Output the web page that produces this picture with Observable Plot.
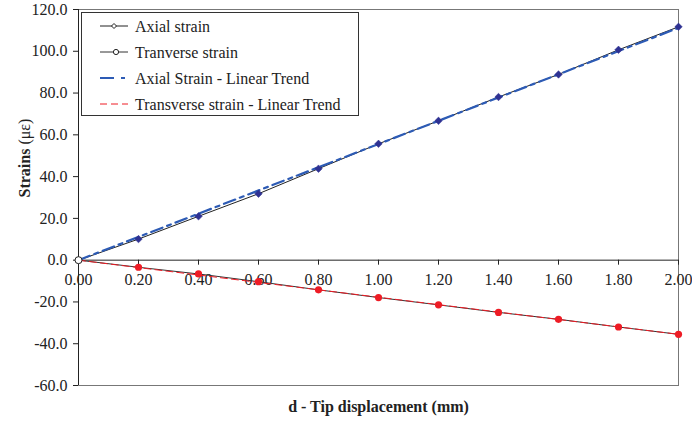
<!DOCTYPE html>
<html><head><meta charset="utf-8">
<script src="https://cdn.jsdelivr.net/npm/d3@7"></script>
<script src="https://cdn.jsdelivr.net/npm/@observablehq/plot@0.6"></script>
<style>body{margin:0;background:#fff}</style>
</head><body><div id="chart"></div>
<script>
const displacement = [0, 0.2, 0.4, 0.6, 0.8, 1.0, 1.2, 1.4, 1.6, 1.8, 2.0];
const axialStrain = [0, 10.1, 21.0, 31.8, 43.8, 55.7, 66.7, 78.1, 88.9, 100.7, 111.7];
const transverseStrain = [0, -3.4, -6.6, -10.3, -14.2, -17.9, -21.4, -25.0, -28.3, -32.0, -35.5];
const trendX = [0, 2];
const axialTrend = [0, 111.2];
const transverseTrend = [0, -35.5];
const xTicks = [0, 0.2, 0.4, 0.6, 0.8, 1.0, 1.2, 1.4, 1.6, 1.8, 2.0];
const yTicks = [-60, -40, -20, 0, 20, 40, 60, 80, 100, 120];
const legendLabels = ["Axial strain", "Tranverse strain", "Axial Strain - Linear Trend", "Transverse strain - Linear Trend"];
const xTitle = "d - Tip displacement (mm)";
const yTitleMain = "Strains";
const yTitleUnit = "(με)";

const axial = displacement.map((d, i) => ({x: d, y: axialStrain[i]}));
const transverse = displacement.map((d, i) => ({x: d, y: transverseStrain[i]}));
const aTrend = trendX.map((d, i) => ({x: d, y: axialTrend[i]}));
const tTrend = trendX.map((d, i) => ({x: d, y: transverseTrend[i]}));

const BLUE = "#2d5bb5", NAVY = "#2e3192", RED = "#ee1c25";
const FONT = "'Liberation Serif', 'Times New Roman', serif";
const yTitle = yTitleMain + " " + yTitleUnit;

const svg = Plot.plot({
  width: 692, height: 428,
  marginLeft: 78, marginRight: 14, marginTop: 9, marginBottom: 43,
  style: {fontFamily: FONT, fontSize: "16px", color: "#222", background: "#fff"},
  x: {domain: [0, 2], axis: null},
  y: {domain: [-60, 120], axis: null},
  marks: [
    Plot.frame({stroke: "#777"}),
    Plot.ruleY([0], {stroke: "#222"}),
    Plot.ruleX([0], {stroke: "#222"}),
    Plot.ruleX(xTicks, {x: d => d, y1: 0, y2: -2.4, stroke: "#222"}),
    Plot.text(xTicks, {x: d => d, y: 0, dy: 20, text: d => d.toFixed(2), fontSize: 16, fill: "#222"}),
    Plot.axisY({ticks: yTicks, tickFormat: d => d.toFixed(1), tickSize: 5, tickPadding: 6, label: null, fontSize: 16, stroke: "#222", fill: "#222"}),
    Plot.text([xTitle], {frameAnchor: "bottom", dy: 26, fontWeight: "bold", fontSize: 16, fill: "#222"}),
    Plot.text([yTitle], {frameAnchor: "left", dx: -54, rotate: -90, fontSize: 16, fill: "#222"}),
    Plot.line(axial, {x: "x", y: "y", stroke: "#222", strokeWidth: 1}),
    Plot.line(transverse, {x: "x", y: "y", stroke: "#333", strokeWidth: 1}),
    Plot.line(aTrend, {x: "x", y: "y", stroke: BLUE, strokeWidth: 2.2, strokeDasharray: "12,5,4,5"}),
    Plot.line(tTrend, {x: "x", y: "y", stroke: RED, strokeWidth: 1, strokeDasharray: "7,4"}),
    Plot.dot(axial.slice(1), {x: "x", y: "y", symbol: "diamond2", r: 3.4, fill: NAVY, stroke: NAVY, strokeWidth: 0.5}),
    Plot.dot(transverse.slice(1), {x: "x", y: "y", r: 3.6, fill: RED}),
    Plot.dot(axial.slice(0, 1), {x: "x", y: "y", r: 3.5, fill: "#fff", stroke: "#222", strokeWidth: 1})
  ]
});
document.getElementById("chart").appendChild(svg);

// Bold "Strains", regular unit
d3.select(svg).selectAll("text").filter(function() { return this.textContent === yTitle; })
  .each(function() {
    const t = d3.select(this);
    t.text(null);
    t.append("tspan").attr("font-weight", "bold").text(yTitleMain + " ");
    t.append("tspan").text(yTitleUnit);
  });

// Legend box drawn in the upper-left corner of the plot area
const g = d3.select(svg).append("g").attr("font-family", FONT).attr("font-size", 16).attr("text-anchor", "start");
g.append("rect").attr("x", 81.5).attr("y", 12.5).attr("width", 277).attr("height", 103).attr("fill", "#fff").attr("stroke", "#333");
const rowsY = [26, 52, 78, 104];
legendLabels.forEach((lab, i) => {
  const y = rowsY[i];
  const row = g.append("g");
  if (i === 0) {
    row.append("line").attr("x1", 100).attr("x2", 128).attr("y1", y).attr("y2", y).attr("stroke", "#222");
    row.append("path").attr("d", `M${114},${y-2.5}L${116.5},${y}L${114},${y+2.5}L${111.5},${y}Z`).attr("fill", "#fff").attr("stroke", "#222");
  } else if (i === 1) {
    row.append("line").attr("x1", 100).attr("x2", 128).attr("y1", y).attr("y2", y).attr("stroke", "#333");
    row.append("circle").attr("cx", 116).attr("cy", y).attr("r", 2.6).attr("fill", "#fff").attr("stroke", "#222");
  } else if (i === 2) {
    row.append("line").attr("x1", 100).attr("x2", 128).attr("y1", y).attr("y2", y).attr("stroke", BLUE).attr("stroke-width", 2.2).attr("stroke-dasharray", "14,7,4");
  } else {
    row.append("line").attr("x1", 100).attr("x2", 128).attr("y1", y).attr("y2", y).attr("stroke", RED).attr("stroke-width", 1).attr("stroke-dasharray", "7,4");
  }
  row.append("text").attr("x", 135).attr("y", y).attr("dy", "0.35em").attr("fill", "#222").text(lab);
});
</script>
</body></html>
